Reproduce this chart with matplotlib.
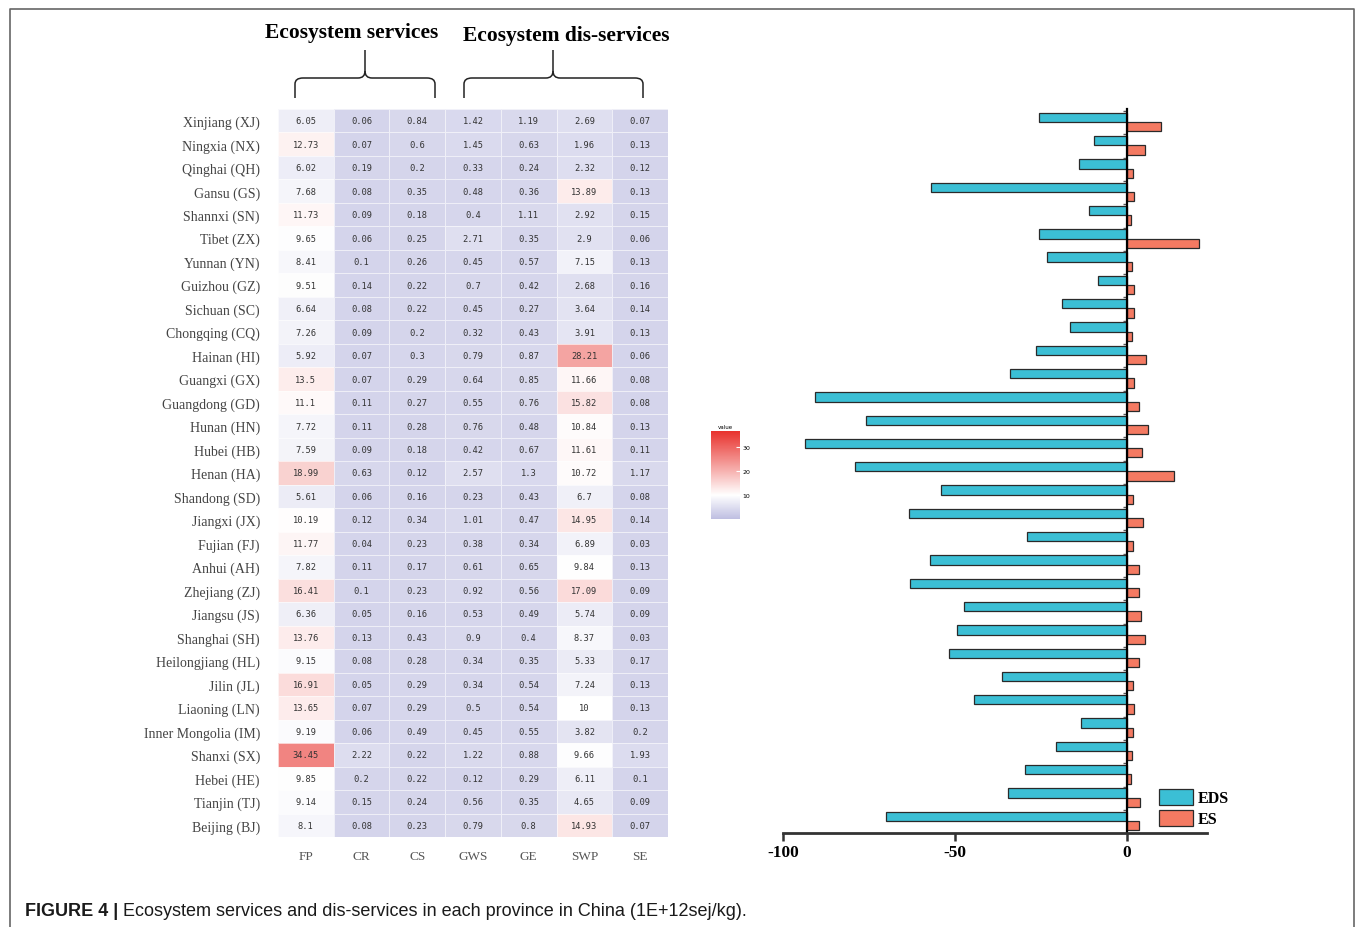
import numpy as np
import matplotlib
matplotlib.use('Agg')
import matplotlib.pyplot as plt
from matplotlib.colors import LinearSegmentedColormap, Normalize
from matplotlib.cm import ScalarMappable
from matplotlib.path import Path
from matplotlib.patches import PathPatch

W, H = 1357, 928

provinces = ["Xinjiang (XJ)", "Ningxia (NX)", "Qinghai (QH)", "Gansu (GS)", "Shannxi (SN)",
             "Tibet (ZX)", "Yunnan (YN)", "Guizhou (GZ)", "Sichuan (SC)", "Chongqing (CQ)",
             "Hainan (HI)", "Guangxi (GX)", "Guangdong (GD)", "Hunan (HN)", "Hubei (HB)",
             "Henan (HA)", "Shandong (SD)", "Jiangxi (JX)", "Fujian (FJ)", "Anhui (AH)",
             "Zhejiang (ZJ)", "Jiangsu (JS)", "Shanghai (SH)", "Heilongjiang (HL)", "Jilin (JL)",
             "Liaoning (LN)", "Inner Mongolia (IM)", "Shanxi (SX)", "Hebei (HE)", "Tianjin (TJ)",
             "Beijing (BJ)"]
columns = ["FP", "CR", "CS", "GWS", "GE", "SWP", "SE"]

FP = [6.05, 12.73, 6.02, 7.68, 11.73, 9.65, 8.41, 9.51, 6.64, 7.26, 5.92, 13.5, 11.1, 7.72, 7.59,
      18.99, 5.61, 10.19, 11.77, 7.82, 16.41, 6.36, 13.76, 9.15, 16.91, 13.65, 9.19, 34.45, 9.85, 9.14, 8.1]
CR = [0.06, 0.07, 0.19, 0.08, 0.09, 0.06, 0.1, 0.14, 0.08, 0.09, 0.07, 0.07, 0.11, 0.11, 0.09,
      0.63, 0.06, 0.12, 0.04, 0.11, 0.1, 0.05, 0.13, 0.08, 0.05, 0.07, 0.06, 2.22, 0.2, 0.15, 0.08]
CS = [0.84, 0.6, 0.2, 0.35, 0.18, 0.25, 0.26, 0.22, 0.22, 0.2, 0.3, 0.29, 0.27, 0.28, 0.18,
      0.12, 0.16, 0.34, 0.23, 0.17, 0.23, 0.16, 0.43, 0.28, 0.29, 0.29, 0.49, 0.22, 0.22, 0.24, 0.23]
GWS = [1.42, 1.45, 0.33, 0.48, 0.4, 2.71, 0.45, 0.7, 0.45, 0.32, 0.79, 0.64, 0.55, 0.76, 0.42,
       2.57, 0.23, 1.01, 0.38, 0.61, 0.92, 0.53, 0.9, 0.34, 0.34, 0.5, 0.45, 1.22, 0.12, 0.56, 0.79]
GE = [1.19, 0.63, 0.24, 0.36, 1.11, 0.35, 0.57, 0.42, 0.27, 0.43, 0.87, 0.85, 0.76, 0.48, 0.67,
      1.3, 0.43, 0.47, 0.34, 0.65, 0.56, 0.49, 0.4, 0.35, 0.54, 0.54, 0.55, 0.88, 0.29, 0.35, 0.8]
SWP = [2.69, 1.96, 2.32, 13.89, 2.92, 2.9, 7.15, 2.68, 3.64, 3.91, 28.21, 11.66, 15.82, 10.84, 11.61,
       10.72, 6.7, 14.95, 6.89, 9.84, 17.09, 5.74, 8.37, 5.33, 7.24, 10, 3.82, 9.66, 6.11, 4.65, 14.93]
SE = [0.07, 0.13, 0.12, 0.13, 0.15, 0.06, 0.13, 0.16, 0.14, 0.13, 0.06, 0.08, 0.08, 0.13, 0.11,
      1.17, 0.08, 0.14, 0.03, 0.13, 0.09, 0.09, 0.03, 0.17, 0.13, 0.13, 0.2, 1.93, 0.1, 0.09, 0.07]

# bar chart values (same province order)
EDS = [-25.6, -9.6, -13.9, -57.0, -11.0, -25.6, -23.3, -8.4, -18.9, -16.6, -26.5, -34.0, -90.7,
       -75.9, -93.6, -79.1, -54.0, -63.4, -29.0, -57.2, -63.0, -47.4, -49.4, -51.8, -36.3, -44.4,
       -13.4, -20.6, -29.7, -34.6, -70.0]
ES = [9.9, 5.2, 1.8, 2.0, 1.3, 21.0, 1.6, 2.0, 2.0, 1.6, 5.6, 2.1, 3.4, 6.0, 4.3, 13.8, 1.8, 4.8,
      1.7, 3.6, 3.5, 4.1, 5.3, 3.4, 1.7, 2.2, 1.9, 1.6, 1.3, 3.9, 3.6]

serif = 'Liberation Serif'

fig = plt.figure(figsize=(W / 100, H / 100), dpi=100)
fig.patch.set_facecolor('white')

# ---- heatmap ----
data = np.array([FP, CR, CS, GWS, GE, SWP, SE]).T
cmap = LinearSegmentedColormap.from_list(
    'lav_red', [(0.0, (190/255, 190/255, 225/255)), (10/36.7, (1, 1, 1)), (1.0, (232/255, 50/255, 45/255))])
norm = Normalize(0, 36.7)

ax1 = fig.add_axes([278 / W, 1 - 838 / H, 390 / W, 728 / H])
ax1.pcolormesh(data, cmap=cmap, norm=norm, alpha=0.65, edgecolors=(1, 1, 1, 0.45), linewidth=0.6)
ax1.set_xlim(0, 7)
ax1.set_ylim(31, 0)
for i in range(data.shape[0]):
    for j in range(data.shape[1]):
        ax1.text(j + 0.5, i + 0.5, '{:g}'.format(data[i, j]), ha='center', va='center',
                 fontsize=6.3, family='DejaVu Sans Mono', color='#333333')
ax1.set_yticks(np.arange(31) + 0.5)
ax1.set_yticklabels(provinces, family=serif, fontsize=10, color='#444444')
ax1.set_xticks(np.arange(7) + 0.5)
ax1.set_xticklabels(columns, family=serif, fontsize=9.5, color='#555555')
ax1.tick_params(length=0)
ax1.tick_params(axis='y', pad=13)
ax1.tick_params(axis='x', pad=9)
for s in ax1.spines.values():
    s.set_visible(False)

# colorbar
cax = fig.add_axes([711 / W, 1 - 520 / H, 29 / W, 88 / H])
cb = fig.colorbar(ScalarMappable(norm=norm, cmap=cmap), cax=cax, ticks=[10, 20, 30])
cb.outline.set_visible(False)
cax.tick_params(labelsize=4.5, length=3, direction='in', color='white', pad=2)
cax.set_title('value', fontsize=4, pad=2)

# ---- bar chart ----
y = np.arange(len(EDS))
ax2 = fig.add_axes([783 / W, 1 - 834 / H, 424 / W, 724 / H])
ax2.barh(y - 0.2, EDS, height=0.4, color='#3BBFD5', edgecolor='#2a2a2a', linewidth=0.9, label='EDS')
ax2.barh(y + 0.2, ES, height=0.4, color='#F47A62', edgecolor='#2a2a2a', linewidth=0.9, label='ES')
ax2.set_xlim(-100, 23.3)
ax2.set_ylim(30.52, -0.56)
ax2.spines['top'].set_visible(False)
ax2.spines['right'].set_visible(False)
ax2.spines['left'].set_position(('data', 0))
ax2.spines['left'].set_linewidth(1.6)
ax2.spines['left'].set_color('black')
ax2.spines['bottom'].set_linewidth(2)
ax2.spines['bottom'].set_color('#333333')
ax2.set_yticks(y - 0.47)
ax2.set_yticklabels([])
ax2.tick_params(axis='y', length=3, width=1, color='#555555')
ax2.set_xticks([-100, -50, 0])
ax2.set_xticklabels(['-100', '-50', '0'], family=serif, fontweight='bold', fontsize=12.5)
ax2.tick_params(axis='x', length=6, width=1.8, color='#333333', pad=2)
ax2.legend(loc='upper left', bbox_to_anchor=(0.868, 0.072), frameon=False,
           prop={'family': serif, 'weight': 'bold', 'size': 11.5},
           handlelength=2.1, handleheight=1.15, handletextpad=0.35, labelspacing=0.22, borderpad=0)

# ---- overlay: headers, braces, frame, caption ----
ov = fig.add_axes([0, 0, 1, 1])
ov.set_xlim(0, W)
ov.set_ylim(H, 0)
ov.axis('off')

ov.text(352, 33, 'Ecosystem services', ha='center', va='center', family=serif,
        fontweight='bold', fontsize=15.5)
ov.text(566, 36, 'Ecosystem dis-services', ha='center', va='center', family=serif,
        fontweight='bold', fontsize=15.5)


def brace(x0, x1, xc, ybot=99, ymid=79, ytop=51):
    verts = [(x0, ybot), (x0, ymid + 6), (x0, ymid), (x0 + 8, ymid),
             (xc - 7, ymid), (xc, ymid), (xc, ymid - 7), (xc, ytop)]
    codes = [Path.MOVETO, Path.LINETO, Path.CURVE3, Path.CURVE3,
             Path.LINETO, Path.CURVE3, Path.CURVE3, Path.LINETO]
    ov.add_patch(PathPatch(Path(verts, codes), fill=False, lw=1.1, color='#222222'))
    verts = [(x1, ybot), (x1, ymid + 6), (x1, ymid), (x1 - 8, ymid),
             (xc + 7, ymid), (xc, ymid), (xc, ymid - 7)]
    codes = [Path.MOVETO, Path.LINETO, Path.CURVE3, Path.CURVE3,
             Path.LINETO, Path.CURVE3, Path.CURVE3]
    ov.add_patch(PathPatch(Path(verts, codes), fill=False, lw=1.1, color='#222222'))


brace(295, 435, 365)
brace(464, 643, 553)

# frame round the figure
ov.plot([9.5, 9.5, 1353.5, 1353.5], [928, 9.5, 9.5, 928], color='#666666', lw=1.2)

t1 = ov.text(25, 912, 'FIGURE 4 |', ha='left', va='center', family='Liberation Sans',
             fontweight='bold', fontsize=13, color='#1a1a1a')
ov.annotate(' Ecosystem services and dis-services in each province in China (1E+12sej/kg).',
            xy=(1, 0.5), xycoords=t1, va='center', ha='left', family='Liberation Sans',
            fontsize=13, color='#1a1a1a')

fig.savefig('out.png', dpi=100, facecolor='white')
